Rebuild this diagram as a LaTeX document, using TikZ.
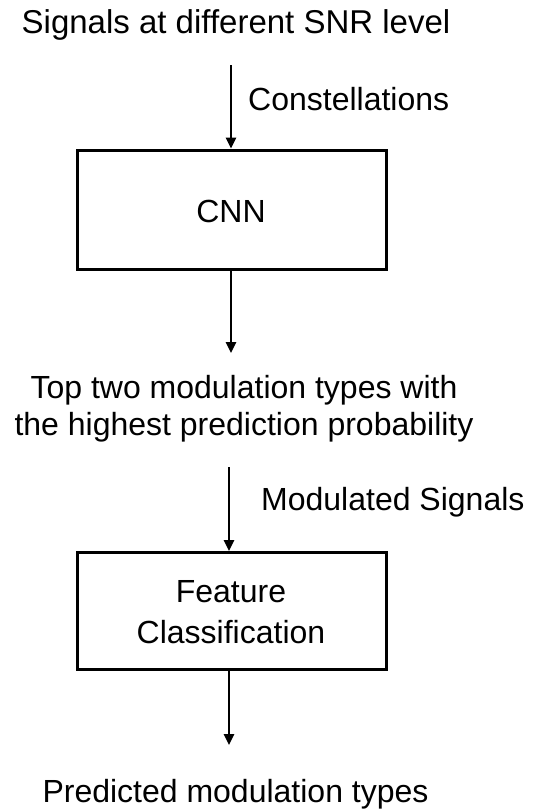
\documentclass[tikz,border=0pt]{standalone}
\usepackage{fontspec}
\setmainfont{Liberation Sans}
\usetikzlibrary{arrows.meta}
\begin{document}
\begin{tikzpicture}[x=1pt,y=-1pt,
  txt/.style={inner sep=0pt, font=\fontsize{32}{37}\selectfont, anchor=base},
  stage/.style={draw, line width=3pt, inner sep=0pt, minimum width=309pt},
  flow/.style={line width=2.5pt, -{Triangle[width=10pt,length=11pt]}}]
\useasboundingbox (0,0) rectangle (536,812);

% first stage: constellation images into the CNN
\node[txt, font=\fontsize{33}{38}\selectfont] (input) at (236,33) {Signals at different SNR level};
\coordinate (in1) at (231,65);
\node[stage, minimum height=119pt] (cnn) at (231.5,209.5) {};
\node[txt] (cnnlbl) at (231,222) {CNN};
\node[txt, anchor=base west] (constl) at (248,110) {Constellations};
\draw[flow] (in1) -- (in1 |- cnn.north);

\coordinate (out1) at (231,353);
\draw[flow] (cnn.south -| out1) -- (out1);
\node[txt, align=center] (top2) at (244,435) {Top two modulation types with\\the highest prediction probability};

% second stage: modulated signals into the feature classifier
\coordinate (in2) at (229,467);
\node[stage, minimum height=117pt] (feat) at (231.5,611) {};
\node[txt, align=center, font=\fontsize{32}{41}\selectfont] (featlbl) at (231,643) {Feature\\Classification};
\node[txt, anchor=base west] (modsig) at (261,510) {Modulated Signals};
\draw[flow] (in2) -- (in2 |- feat.north);

\coordinate (out2) at (229,745);
\draw[flow] (feat.south -| out2) -- (out2);
\node[txt] (pred) at (235.5,802) {Predicted modulation types};
\end{tikzpicture}
\end{document}
